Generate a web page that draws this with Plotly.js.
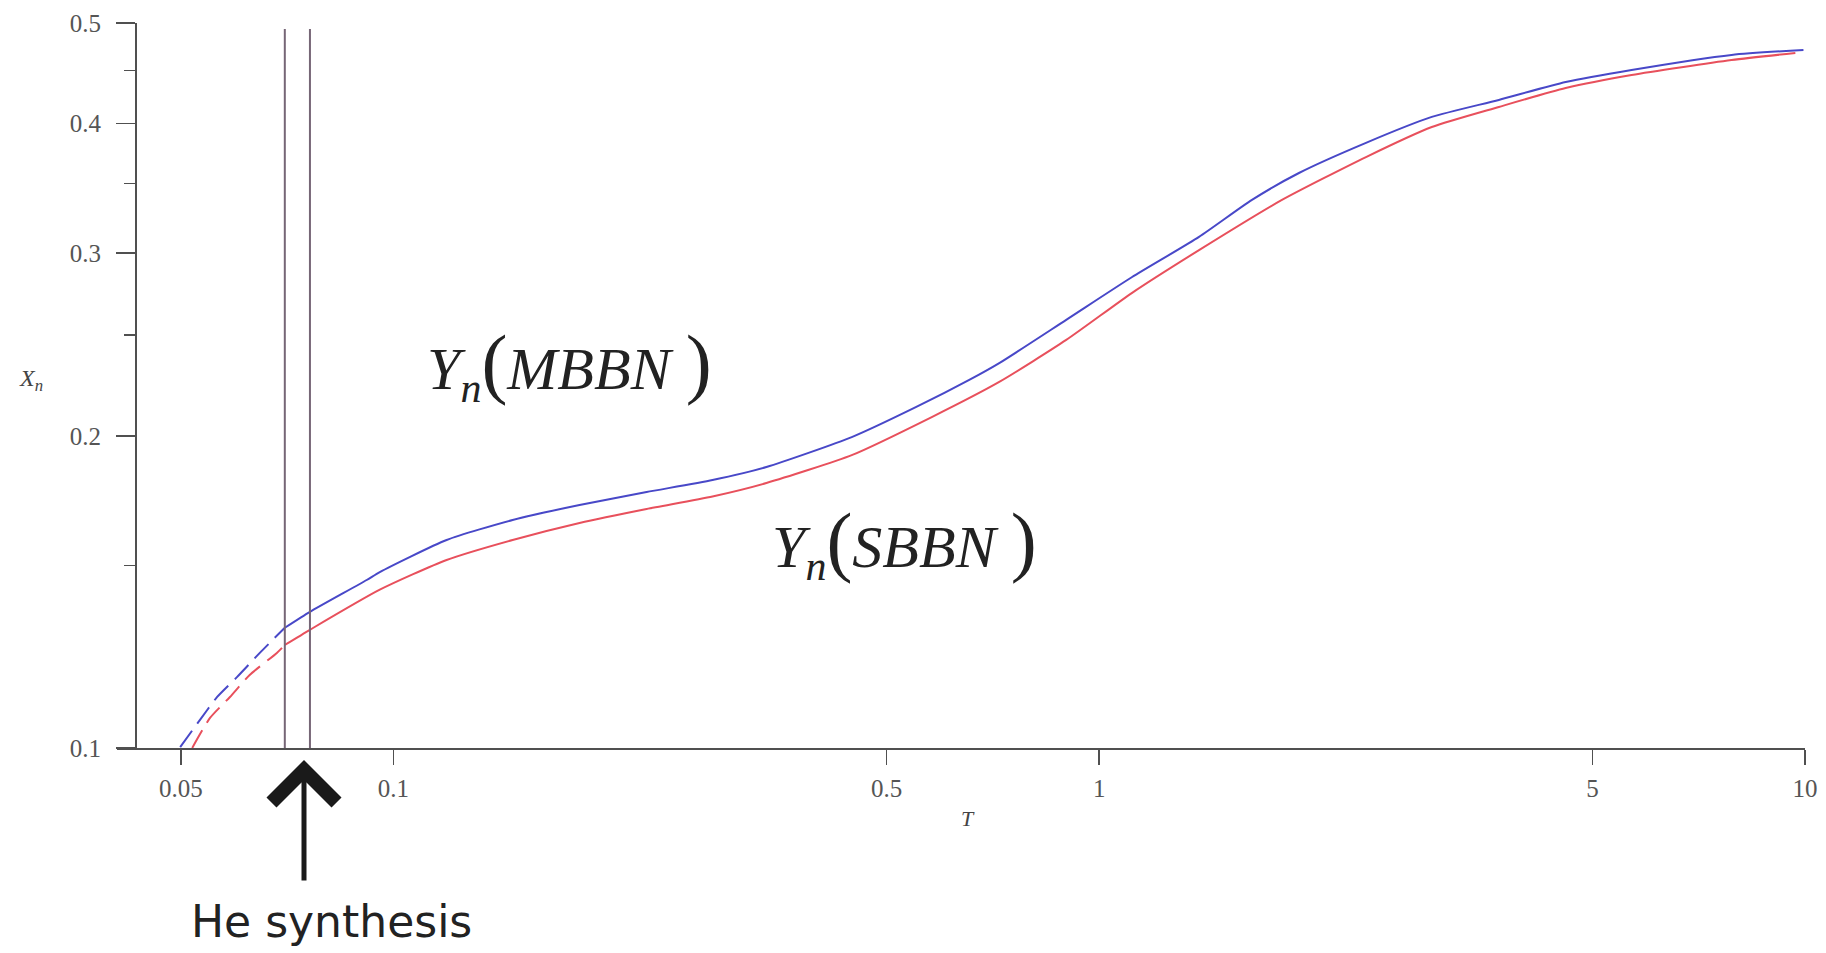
<!DOCTYPE html>
<html>
<head>
<meta charset="utf-8">
<script src="https://cdn.plot.ly/plotly-3.0.1.min.js"></script>
<style>html,body{margin:0;padding:0;background:#fff;}#chart{width:1826px;height:953px;}</style>
</head>
<body>
<div id="chart"></div>
<script>
// ---- data ----
const T_MBBN = [0.0499, 0.0532, 0.0563, 0.0601, 0.0647, 0.0702, 0.0762, 0.0917, 0.0957, 0.1190, 0.1476, 0.1836, 0.2285, 0.2833, 0.3378, 0.4471, 0.5508, 0.6546, 0.7219, 0.8982, 1.1136, 1.3852, 1.6463, 1.919, 2.388, 2.960, 3.683, 4.581, 5.680, 7.870, 9.95];
const Y_MBBN = [0.1002, 0.1064, 0.1120, 0.1171, 0.1235, 0.1306, 0.1353, 0.1452, 0.1478, 0.1587, 0.1659, 0.1715, 0.1765, 0.1813, 0.1866, 0.1995, 0.2132, 0.2264, 0.2350, 0.2587, 0.2845, 0.3110, 0.3376, 0.3584, 0.3832, 0.4059, 0.4215, 0.4386, 0.4505, 0.4658, 0.4710];
const T_SBBN = [0.0519, 0.0550, 0.0587, 0.0626, 0.0684, 0.0702, 0.0762, 0.0957, 0.1190, 0.1476, 0.1836, 0.2285, 0.2833, 0.3378, 0.4471, 0.5802, 0.7219, 0.8982, 1.1136, 1.3852, 1.8155, 2.388, 2.960, 3.683, 4.581, 5.680, 7.870, 9.69];
const Y_SBBN = [0.1000, 0.1069, 0.1120, 0.1176, 0.1235, 0.1257, 0.1300, 0.1421, 0.1518, 0.1587, 0.1648, 0.1700, 0.1748, 0.1801, 0.1917, 0.2086, 0.2254, 0.2474, 0.2747, 0.3020, 0.3376, 0.3713, 0.3969, 0.4150, 0.4328, 0.4455, 0.4605, 0.4678];
const DASH_END_T = 0.0702;           // curves are dashed below this temperature
const HE_LINES_T = [0.0702, 0.0762]; // vertical "He synthesis" markers
const HE_LINES_Y = [0.1, 0.4934];
const X_TICKS = [0.05, 0.1, 0.5, 1, 5, 10];
const X_TICK_TEXT = ['0.05', '0.1', '0.5', '1', '5', '10'];
const Y_TICKS = [0.1, 0.2, 0.3, 0.4, 0.5];
const Y_TICK_TEXT = ['0.1', '0.2', '0.3', '0.4', '0.5'];
const Y_MINOR = [0.15, 0.25, 0.35, 0.45];

// ---- build traces ----
function part(ts, ys, keep) {
  const x = [], y = [];
  ts.forEach((t, i) => { if (keep(t)) { x.push(t); y.push(ys[i]); } });
  return {x, y};
}
const BLUE = '#4848c8', RED = '#e8505c';
const traces = [];
[[T_MBBN, Y_MBBN, BLUE], [T_SBBN, Y_SBBN, RED]].forEach(([ts, ys, c]) => {
  const d = part(ts, ys, t => t <= DASH_END_T + 1e-9);
  const s = part(ts, ys, t => t >= DASH_END_T - 1e-9);
  traces.push({type: 'scatter', mode: 'lines', x: d.x, y: d.y, line: {color: c, width: 2, dash: '20px,9px', shape: 'spline', smoothing: 0.6}, hoverinfo: 'skip', showlegend: false});
  traces.push({type: 'scatter', mode: 'lines', x: s.x, y: s.y, line: {color: c, width: 2, shape: 'spline', smoothing: 0.6}, hoverinfo: 'skip', showlegend: false});
});
HE_LINES_T.forEach(t => {
  traces.push({type: 'scatter', mode: 'lines', x: [t, t], y: HE_LINES_Y, line: {color: '#766676', width: 2}, hoverinfo: 'skip', showlegend: false});
});

// ---- layout ----
const L = 117, R = 21, T = 23, B = 205, W = 1826, H = 953;
const PW = W - L - R, PH = H - T - B;
const px = v => (v - L) / PW;        // pixel x -> paper
const py = v => (H - B - v) / PH;    // pixel y -> paper
const AX = '#505050';
const serif = 'Liberation Serif, Times New Roman, serif';

function label(x, y, text, font) {
  return {xref: 'paper', yref: 'paper', x: px(x), y: py(y), xanchor: 'center', yanchor: 'middle',
          text, showarrow: false, font};
}

const layout = {
  width: W, height: H,
  margin: {l: L, r: R, t: T, b: B},
  paper_bgcolor: '#fff', plot_bgcolor: '#fff',
  showlegend: false,
  xaxis: {
    type: 'log', range: [-1.3914, 1],
    showline: true, linecolor: AX, linewidth: 2,
    ticks: 'outside', ticklen: 15, tickwidth: 1.5, tickcolor: AX,
    tickmode: 'array', tickvals: X_TICKS, ticktext: X_TICK_TEXT,
    tickfont: {family: serif, size: 25, color: '#555'},
    ticklabelstandoff: 2,
    showgrid: false, zeroline: false
  },
  yaxis: {
    type: 'log', range: [-1, Math.log10(0.5)],
    anchor: 'free', position: px(136),
    showline: true, linecolor: AX, linewidth: 2,
    ticks: 'outside', ticklen: 19, tickwidth: 1.5, tickcolor: AX,
    tickmode: 'array', tickvals: Y_TICKS, ticktext: Y_TICK_TEXT,
    tickfont: {family: serif, size: 25, color: '#555'},
    ticklabelstandoff: 10,
    minor: {tickmode: 'array', tickvals: Y_MINOR, ticks: 'outside', ticklen: 11, tickwidth: 1.5, tickcolor: AX, showgrid: false},
    showgrid: false, zeroline: false
  },
  annotations: [
    label(968, 818, '<i>T</i>', {family: serif, size: 22, color: '#444'}),
    label(31, 380, '<i>X</i><sub><i>n</i></sub>', {family: serif, size: 24, color: '#444'}),
    label(569, 365, '<i>Y</i><sub><i>n</i></sub><span style="font-size:78px">(</span><i>MBBN</i> <span style="font-size:78px">)</span>',
          {family: serif, size: 60, color: '#222'}),
    label(904, 543, '<i>Y</i><sub><i>n</i></sub><span style="font-size:78px">(</span><i>SBBN</i> <span style="font-size:78px">)</span>',
          {family: serif, size: 60, color: '#222'}),
    {xref: 'paper', yref: 'paper', x: px(304), y: py(760), text: '', showarrow: true,
     axref: 'pixel', ayref: 'pixel', ax: 0, ay: 122,
     arrowhead: 4, arrowsize: 2.5, arrowwidth: 5, arrowcolor: '#1a1a1a', standoff: 0},
    label(331, 921, 'He synthesis', {family: 'DejaVu Sans, sans-serif', size: 44, color: '#222'})
  ]
};

Plotly.newPlot('chart', traces, layout, {displayModeBar: false, staticPlot: true});
</script>
</body>
</html>
